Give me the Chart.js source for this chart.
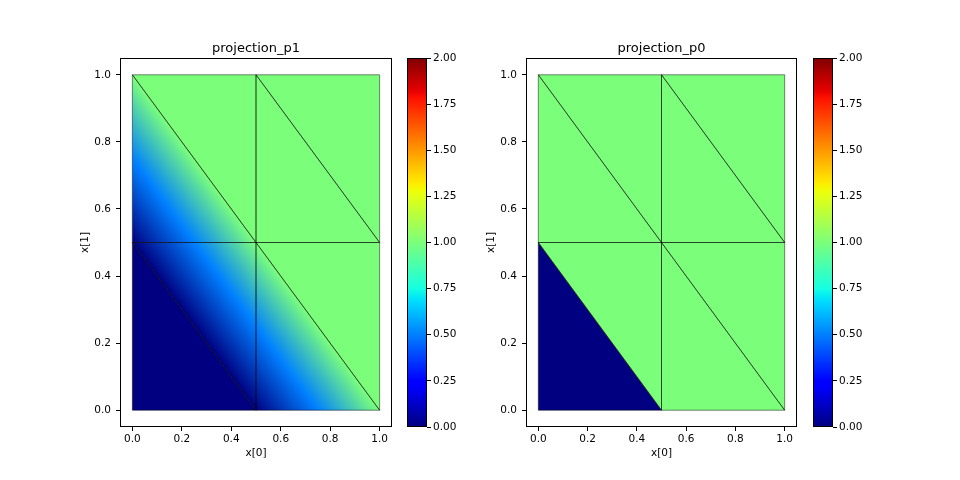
<!DOCTYPE html>
<html>
<head>
<meta charset="utf-8">
<script src="https://cdn.jsdelivr.net/npm/chart.js@4.4.1/dist/chart.umd.min.js"></script>
<style>
  html, body { margin: 0; padding: 0; background: #fff; }
  #fig { position: relative; width: 960px; height: 480px; overflow: hidden; background: #fff; }
  .box { position: absolute; top: 0; height: 480px; }
</style>
</head>
<body>
<div id="fig">
  <div class="box" style="left:0px;width:400px"><canvas id="plotP1"></canvas></div>
  <div class="box" style="left:400px;width:80px"><canvas id="cbP1"></canvas></div>
  <div class="box" style="left:406px;width:400px"><canvas id="plotP0"></canvas></div>
  <div class="box" style="left:806px;width:80px"><canvas id="cbP0"></canvas></div>
</div>
<script>
// ---- data ----
const nodeX = [0, 0.5, 1, 0, 0.5, 1, 0, 0.5, 1];
const nodeY = [0, 0, 0, 0.5, 0.5, 0.5, 1, 1, 1];
const triangles = [[0,1,3],[1,4,3],[1,2,4],[2,5,4],[3,4,6],[4,7,6],[4,5,7],[5,8,7]];
const p1NodeValues = [0, 0, 1, 0, 1, 1, 1, 1, 1];
const p0CellValues = [0, 1, 1, 1, 1, 1, 1, 1];
const axisTicks = [0, 0.2, 0.4, 0.6, 0.8, 1.0];
const colorbarTicks = [0, 0.25, 0.5, 0.75, 1.0, 1.25, 1.5, 1.75, 2.0];
const plotTitles = ['projection_p1', 'projection_p0'];
const xLabel = 'x[0]';
const yLabel = 'x[1]';
const vmin = 0, vmax = 2;

// ---- jet colormap ----
const jetSeg = {
  r: [[0,0],[0.35,0],[0.66,1],[0.89,1],[1,0.5]],
  g: [[0,0],[0.125,0],[0.375,1],[0.64,1],[0.91,0],[1,0]],
  b: [[0,0.5],[0.11,1],[0.34,1],[0.65,0],[1,0]]
};
function segVal(seg, t) {
  for (let i = 1; i < seg.length; i++) {
    if (t <= seg[i][0]) {
      const [x0, y0] = seg[i-1], [x1, y1] = seg[i];
      return y0 + (y1 - y0) * (t - x0) / (x1 - x0);
    }
  }
  return seg[seg.length-1][1];
}
function jet(t) {
  t = Math.max(0, Math.min(1, t));
  const r = Math.round(segVal(jetSeg.r, t) * 255);
  const g = Math.round(segVal(jetSeg.g, t) * 255);
  const b = Math.round(segVal(jetSeg.b, t) * 255);
  return `rgb(${r},${g},${b})`;
}
const colorOf = v => jet((v - vmin) / (vmax - vmin));

Chart.defaults.font.family = "'DejaVu Sans', sans-serif";
Chart.defaults.color = '#000';

const TICK_FONT = { size: 10.5 };

function meshPlugin(mode) {
  return {
    id: 'mesh' + mode,
    beforeDatasetsDraw(chart) {
      const { ctx, scales: { x, y } } = chart;
      const px = nodeX.map(v => x.getPixelForValue(v));
      const py = nodeY.map(v => y.getPixelForValue(v));
      ctx.save();
      triangles.forEach((tri, k) => {
        const [i0, i1, i2] = tri;
        ctx.beginPath();
        ctx.moveTo(px[i0], py[i0]);
        ctx.lineTo(px[i1], py[i1]);
        ctx.lineTo(px[i2], py[i2]);
        ctx.closePath();
        if (mode === 'p0') {
          ctx.fillStyle = colorOf(p0CellValues[k]);
        } else {
          const v0 = p1NodeValues[i0], v1 = p1NodeValues[i1], v2 = p1NodeValues[i2];
          const lo = Math.min(v0, v1, v2), hi = Math.max(v0, v1, v2);
          if (hi - lo < 1e-12) {
            ctx.fillStyle = colorOf(lo);
          } else {
            const x0 = px[i0], y0 = py[i0];
            const dx1 = px[i1] - x0, dy1 = py[i1] - y0;
            const dx2 = px[i2] - x0, dy2 = py[i2] - y0;
            const dv1 = v1 - v0, dv2 = v2 - v0;
            const det = dx1 * dy2 - dx2 * dy1;
            const a = (dv1 * dy2 - dv2 * dy1) / det;
            const b = (dx1 * dv2 - dx2 * dv1) / det;
            const g2 = a * a + b * b;
            const sx = x0 + (lo - v0) * a / g2, sy = y0 + (lo - v0) * b / g2;
            const ex = x0 + (hi - v0) * a / g2, ey = y0 + (hi - v0) * b / g2;
            const grad = ctx.createLinearGradient(sx, sy, ex, ey);
            [0, 0.5, 1].forEach(t => grad.addColorStop(t, colorOf(lo + t * (hi - lo))));
            ctx.fillStyle = grad;
          }
        }
        ctx.fill();
      });
      // edges
      ctx.strokeStyle = 'rgba(0,0,0,0.6)';
      ctx.lineWidth = 0.8;
      triangles.forEach(tri => {
        ctx.beginPath();
        ctx.moveTo(px[tri[0]], py[tri[0]]);
        ctx.lineTo(px[tri[1]], py[tri[1]]);
        ctx.lineTo(px[tri[2]], py[tri[2]]);
        ctx.closePath();
        ctx.stroke();
      });
      ctx.restore();
    },
    afterDraw(chart) {
      const { ctx, chartArea: ca } = chart;
      ctx.save();
      ctx.strokeStyle = '#000';
      ctx.lineWidth = 1;
      ctx.strokeRect(Math.round(ca.left) + 0.5, Math.round(ca.top) + 0.5,
        Math.round(ca.right - ca.left) - 1, Math.round(ca.bottom - ca.top) - 1);
      ctx.restore();
    }
  };
}

function makePlot(canvasId, title, mode, padRight) {
  const fmt1 = v => Number(v).toFixed(1);
  new Chart(document.getElementById(canvasId), {
    type: 'scatter',
    data: {
      datasets: [{
        data: nodeX.map((xv, i) => ({ x: xv, y: nodeY[i] })),
        pointRadius: 0,
        showLine: false
      }]
    },
    options: {
      responsive: true,
      maintainAspectRatio: false,
      animation: false,
      events: [],
      layout: { padding: { left: 72, right: padRight, top: 0, bottom: 20 } },
      plugins: {
        legend: { display: false },
        tooltip: { enabled: false },
        title: {
          display: true,
          text: title,
          fullSize: false,
          color: '#000',
          font: { size: 13, weight: 'normal' },
          padding: { top: 40.5, bottom: 1.9 }
        }
      },
      scales: {
        x: {
          type: 'linear',
          min: -0.05, max: 1.05,
          afterBuildTicks: s => { s.ticks = axisTicks.map(v => ({ value: v })); },
          afterFit: s => { s.height = 33; },
          ticks: { font: TICK_FONT, padding: 2, maxRotation: 0, callback: fmt1, color: '#000' },
          grid: { drawOnChartArea: false, drawTicks: true, tickLength: 4, tickColor: '#000', color: '#000' },
          border: { display: false },
          title: { display: true, text: xLabel, font: TICK_FONT, color: '#000', padding: { top: 0, bottom: 0 } }
        },
        y: {
          type: 'linear',
          min: -0.05, max: 1.05,
          afterBuildTicks: s => { s.ticks = axisTicks.map(v => ({ value: v })); },
          afterFit: s => { s.width = 48; },
          ticks: { font: TICK_FONT, padding: 5, callback: fmt1, color: '#000' },
          grid: { drawOnChartArea: false, drawTicks: true, tickLength: 4, tickColor: '#000', color: '#000' },
          border: { display: false },
          title: { display: true, text: yLabel, font: TICK_FONT, color: '#000', padding: { top: 7, bottom: 0 } }
        }
      }
    },
    plugins: [meshPlugin(mode)]
  });
}

const colorbarPlugin = {
  id: 'colorbarFill',
  beforeDatasetsDraw(chart) {
    const { ctx, scales: { y }, chartArea: ca } = chart;
    const yb = y.getPixelForValue(vmin), yt = y.getPixelForValue(vmax);
    const grad = ctx.createLinearGradient(0, yb, 0, yt);
    for (let i = 0; i <= 128; i++) grad.addColorStop(i / 128, jet(i / 128));
    ctx.save();
    ctx.fillStyle = grad;
    ctx.fillRect(ca.left, yt, ca.right - ca.left, yb - yt);
    ctx.strokeStyle = '#000';
    ctx.lineWidth = 1;
    ctx.strokeRect(Math.round(ca.left) + 0.5, Math.round(ca.top) + 0.5,
      Math.round(ca.right - ca.left) - 1, Math.round(ca.bottom - ca.top) - 1);
    ctx.restore();
  }
};

function makeColorbar(canvasId) {
  new Chart(document.getElementById(canvasId), {
    type: 'scatter',
    data: { datasets: [{ data: [], pointRadius: 0 }] },
    options: {
      responsive: true,
      maintainAspectRatio: false,
      animation: false,
      events: [],
      layout: { padding: { left: 7, right: 0, top: 58, bottom: 53 } },
      plugins: { legend: { display: false }, tooltip: { enabled: false } },
      scales: {
        x: { type: 'linear', display: false, min: 0, max: 1 },
        y: {
          type: 'linear',
          position: 'right',
          min: vmin, max: vmax,
          afterBuildTicks: s => { s.ticks = colorbarTicks.map(v => ({ value: v })); },
          afterFit: s => { s.width = 53; },
          ticks: { font: TICK_FONT, padding: 2, callback: v => Number(v).toFixed(2), color: '#000' },
          grid: { drawOnChartArea: false, drawTicks: true, tickLength: 4, tickColor: '#000', color: '#000' },
          border: { display: false }
        }
      }
    },
    plugins: [colorbarPlugin]
  });
}

makePlot('plotP1', plotTitles[0], 'p1', 8);
makeColorbar('cbP1');
makePlot('plotP0', plotTitles[1], 'p0', 9);
makeColorbar('cbP0');
</script>
</body>
</html>
